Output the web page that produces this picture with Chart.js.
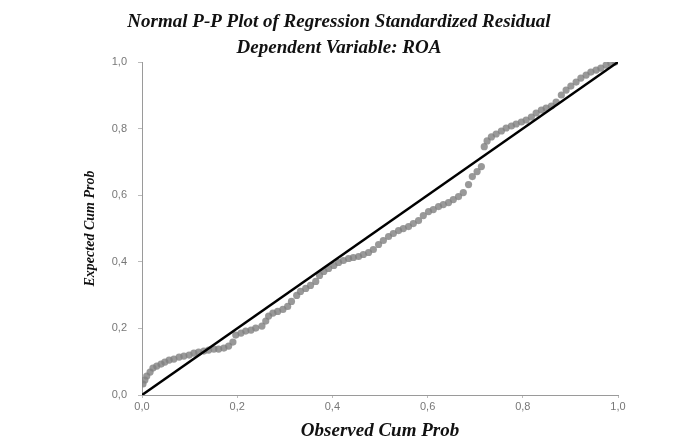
<!DOCTYPE html>
<html>
<head>
<meta charset="utf-8">
<script src="https://cdn.jsdelivr.net/npm/chart.js@4"></script>
<style>
  html, body { margin: 0; padding: 0; background: #fff; }
  #wrap { width: 676px; height: 437px; }
</style>
</head>
<body>
<div id="wrap"><canvas id="myChart" width="676" height="437"></canvas></div>
<script>
const titleLines = ["Normal P-P Plot of Regression Standardized Residual", "Dependent Variable: ROA"];
const xTitle = "Observed Cum Prob";
const yTitle = "Expected Cum Prob";
const tickValues = [0, 0.2, 0.4, 0.6, 0.8, 1.0];

// observed cum prob (x) / expected cum prob (y)
const observed = [
  0.002, 0.006, 0.010, 0.017, 0.023, 0.031, 0.040, 0.048, 0.057, 0.067,
  0.078, 0.088, 0.099, 0.109, 0.119, 0.130, 0.140, 0.151, 0.161, 0.172,
  0.182, 0.191, 0.197, 0.208, 0.218, 0.229, 0.239, 0.252, 0.260, 0.266,
  0.275, 0.285, 0.296, 0.306, 0.314, 0.325, 0.333, 0.344, 0.354, 0.365,
  0.373, 0.382, 0.392, 0.403, 0.413, 0.423, 0.434, 0.444, 0.455, 0.465,
  0.476, 0.486, 0.497, 0.507, 0.518, 0.528, 0.539, 0.549, 0.560, 0.570,
  0.581, 0.591, 0.602, 0.612, 0.623, 0.633, 0.644, 0.654, 0.665, 0.675,
  0.686, 0.694, 0.704, 0.713, 0.719, 0.725, 0.734, 0.744, 0.755, 0.765,
  0.776, 0.786, 0.797, 0.807, 0.818, 0.828, 0.839, 0.849, 0.860, 0.870,
  0.881, 0.891, 0.901, 0.912, 0.922, 0.933, 0.943, 0.954, 0.964, 0.975,
  0.985, 0.994
];
const expected = [
  0.033, 0.045, 0.057, 0.069, 0.081, 0.087, 0.093, 0.099, 0.105, 0.108,
  0.114, 0.117, 0.120, 0.126, 0.129, 0.132, 0.135, 0.138, 0.138, 0.141,
  0.147, 0.159, 0.180, 0.186, 0.192, 0.195, 0.201, 0.207, 0.222, 0.237,
  0.246, 0.251, 0.257, 0.266, 0.281, 0.299, 0.311, 0.320, 0.329, 0.341,
  0.359, 0.371, 0.380, 0.389, 0.398, 0.404, 0.410, 0.413, 0.416, 0.422,
  0.428, 0.437, 0.452, 0.464, 0.476, 0.485, 0.494, 0.500, 0.506, 0.515,
  0.524, 0.539, 0.551, 0.557, 0.566, 0.572, 0.578, 0.587, 0.596, 0.608,
  0.632, 0.656, 0.671, 0.686, 0.746, 0.763, 0.775, 0.784, 0.793, 0.802,
  0.808, 0.814, 0.820, 0.826, 0.835, 0.847, 0.856, 0.862, 0.868, 0.880,
  0.901, 0.916, 0.928, 0.940, 0.952, 0.961, 0.970, 0.976, 0.982, 0.991,
  0.997, 1.000
];
const refLineX = [0, 1];
const refLineY = [0, 1];

const points = observed.map((x, i) => ({ x: x, y: expected[i] }));
const refLine = refLineX.map((x, i) => ({ x: x, y: refLineY[i] }));

const fmt = v => v.toFixed(1).replace(".", ",");

const config = {
  type: "scatter",
  data: {
    datasets: [
      {
        label: "puntos",
        data: points,
        backgroundColor: "rgba(128,128,128,0.8)",
        borderWidth: 0,
        pointRadius: 3.6,
        order: 2
      },
      {
        label: "referencia",
        type: "line",
        data: refLine,
        borderColor: "#000",
        borderWidth: 2.5,
        pointRadius: 0,
        order: 1
      }
    ]
  },
  options: {
    responsive: false,
    animation: false,
    layout: { padding: { top: 0, left: 60, right: 58, bottom: 0 } },
    plugins: {
      legend: { display: false },
      tooltip: { enabled: false },
      title: {
        display: true,
        text: titleLines,
        color: "#111",
        font: { family: "Liberation Serif", size: 19, style: "italic", weight: "bold", lineHeight: 1.37 },
        padding: { top: 9, bottom: 1 }
      }
    },
    scales: {
      x: {
        type: "linear",
        min: 0,
        max: 1,
        afterBuildTicks: s => { s.ticks = tickValues.map(v => ({ value: v })); },
        afterFit: s => { s.height = 42; },
        border: { color: "#9a9a9a", width: 1 },
        grid: { drawOnChartArea: false, drawTicks: true, tickLength: 3, color: "#bbb" },
        ticks: { padding: 2, color: "#777", font: { family: "Liberation Sans", size: 11 }, callback: v => fmt(v), maxRotation: 0 },
        title: {
          display: true,
          text: xTitle,
          color: "#111",
          font: { family: "Liberation Serif", size: 19, style: "italic", weight: "bold" },
          padding: { top: 0, bottom: -5 }
        }
      },
      y: {
        type: "linear",
        min: 0,
        max: 1,
        afterBuildTicks: s => { s.ticks = tickValues.map(v => ({ value: v })); },
        afterFit: s => { s.width = 82; },
        border: { color: "#9a9a9a", width: 1 },
        grid: { drawOnChartArea: false, drawTicks: true, tickLength: 4, color: "#bbb" },
        ticks: { padding: 11, color: "#777", font: { family: "Liberation Sans", size: 11 }, callback: v => fmt(v) },
        title: {
          display: true,
          text: yTitle,
          color: "#111",
          font: { family: "Liberation Serif", size: 14, style: "italic", weight: "bold" },
          padding: { top: 22, bottom: 0 }
        }
      }
    }
  }
};

new Chart(document.getElementById("myChart"), config);
</script>
</body>
</html>
